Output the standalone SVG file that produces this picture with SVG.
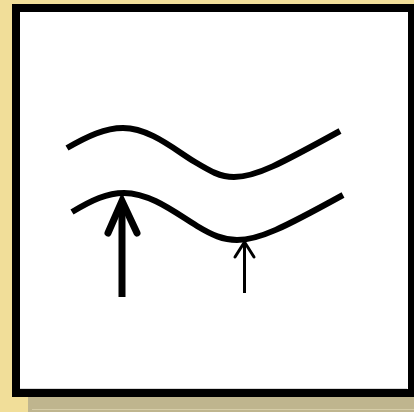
<svg xmlns="http://www.w3.org/2000/svg" width="414" height="412" viewBox="0 0 414 412">
  <defs>
    <style>
      .wave { fill: none; stroke: #000; stroke-width: 6; stroke-linecap: butt; }
      .shaft { stroke: #000; stroke-linecap: butt; }
      .head { fill: none; stroke: #000; stroke-linecap: round; stroke-linejoin: miter; }
    </style>
  </defs>
  <rect x="0" y="0" width="414" height="412" fill="#F1DE99"/>
  <g id="shadow">
    <rect x="28" y="20" width="400" height="400" fill="#BFB58E"/>
    <line x1="32" y1="409.5" x2="414" y2="409.5" stroke="#D6CDA8" stroke-width="1"/>
  </g>
  <g id="frame">
    <rect x="16" y="8" width="396" height="385" fill="#FFFFFF" stroke="#000" stroke-width="8"/>
    <line x1="20" y1="388.5" x2="407" y2="388.5" stroke="#D8D8D8" stroke-width="1"/>
  </g>
  <g id="waves">
    <path id="wave-upper" class="wave" d="M67,148 C88,136 105,128 123,128 C150,128 175,150 195,162 C210,171 220,177 234,177 C256,177 280,164 340,131"/>
    <path id="wave-lower" class="wave" d="M72,212 C92,200 107,193 124,193 C151,193 177,214 197,226 C212,235 223,240 237,240 C259,240 283,228 343,195"/>
  </g>
  <g id="arrows">
    <g id="arrow-big">
      <line class="shaft" x1="122" y1="297" x2="122" y2="203" stroke-width="7"/>
      <polyline class="head" points="108,233 122,201 137,233" stroke-width="7"/>
    </g>
    <g id="arrow-small">
      <line class="shaft" x1="244.5" y1="293" x2="244.5" y2="243" stroke-width="3"/>
      <polyline class="head" points="235,257 244.5,242 254,257" stroke-width="3"/>
    </g>
  </g>
</svg>
